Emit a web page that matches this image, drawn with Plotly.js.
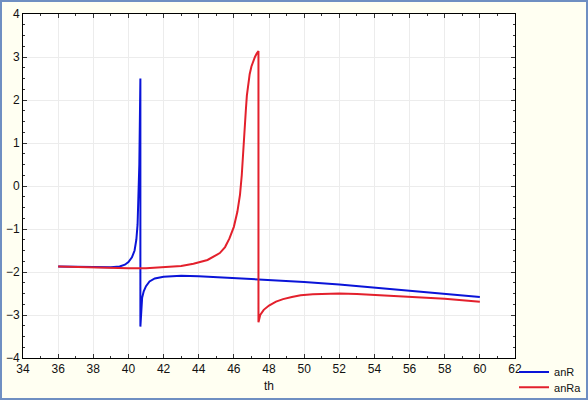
<!DOCTYPE html>
<html>
<head>
<meta charset="utf-8">
<script src="https://cdn.plot.ly/plotly-3.0.1.min.js"></script>
<style>
  body { margin: 0; background: #fffff2; }
  #wrap { position: relative; width: 588px; height: 400px; }
  #frame { position: absolute; left: 0; top: 0; width: 584px; height: 396px;
           border: 2px solid #6f8fc2; pointer-events: none; }
</style>
</head>
<body>
<div id="wrap">
  <div id="plot" style="width:588px;height:400px;"></div>
  <div id="frame"></div>
</div>
<script>
// anR (blue)
var thR = [36, 37, 38, 38.5, 39, 39.5, 39.8, 40.0, 40.2, 40.35, 40.45, 40.52, 40.58, 40.62, 40.65, 40.68,
           40.68, 40.72, 40.78, 40.87, 41.0, 41.2, 41.5, 42, 43, 44, 46, 48, 50, 52, 54, 56, 58, 60];
var anR = [-1.87, -1.88, -1.89, -1.89, -1.89, -1.87, -1.83, -1.77, -1.66, -1.5, -1.25, -0.9, -0.3, 0.5, 1.5, 2.5,
           -3.27, -2.9, -2.6, -2.45, -2.33, -2.22, -2.15, -2.11, -2.09, -2.1, -2.14, -2.18, -2.23, -2.29, -2.36, -2.43, -2.5, -2.58];

// anRa (red)
var thRa = [36, 37, 38, 39, 40, 41, 42, 43, 43.7, 44.5, 45.2, 45.5, 45.75, 46.0, 46.2, 46.35, 46.45, 46.55, 46.62,
            46.68, 46.74, 46.82, 46.9, 47.0, 47.1, 47.2, 47.3, 47.4,
            47.4, 47.5, 47.7, 48.0, 48.4, 48.8, 49.3, 49.8, 50.5, 51.2, 52, 53, 54, 56, 58, 60];
var anRa = [-1.87, -1.88, -1.9, -1.91, -1.91, -1.91, -1.89, -1.86, -1.81, -1.72, -1.56, -1.42, -1.22, -0.95, -0.6, -0.2, 0.25, 0.8, 1.3,
            1.75, 2.1, 2.4, 2.6, 2.78, 2.9, 3.0, 3.08, 3.14,
            -3.17, -3.0, -2.88, -2.78, -2.69, -2.63, -2.58, -2.54, -2.52, -2.51, -2.5, -2.51, -2.53, -2.57, -2.62, -2.69];

var Trace1 = {
  x: thR, y: anR, name: "anR", mode: "lines", legend: "legend",
  line: { color: "#0a14d8", width: 2 }
};
var Trace2 = {
  x: thRa, y: anRa, name: "anRa", mode: "lines", legend: "legend2",
  line: { color: "#e3202c", width: 2 }
};

var axisStyle = {
  showline: true, linecolor: "#000", linewidth: 1, mirror: "allticks",
  ticks: "inside", ticklen: 4, tickcolor: "#333",
  showgrid: true, gridcolor: "#ececec", zeroline: false,
  tickfont: { family: "Liberation Sans, Arial", size: 12, color: "#111" }
};

var legendStyle = {
  x: 0.998, xanchor: "left", yanchor: "middle",
  bgcolor: "rgba(0,0,0,0)", font: { size: 11 }
};

var layout = {
  width: 588, height: 400,
  margin: { l: 23, r: 73, t: 14, b: 42, autoexpand: false },
  paper_bgcolor: "#fffff2",
  plot_bgcolor: "#ffffff",
  font: { family: "Liberation Sans, Arial", size: 12, color: "#111" },
  showlegend: true,
  legend: Object.assign({}, legendStyle, { y: -0.041 }),
  legend2: Object.assign({}, legendStyle, { y: -0.085 }),
  xaxis: Object.assign({}, axisStyle, {
    range: [34, 62], dtick: 2, tick0: 34,
    minor: { dtick: 1, ticks: "inside", ticklen: 2, tickcolor: "#333", showgrid: false },
    title: { text: "th", standoff: 6, font: { size: 12 } }
  }),
  yaxis: Object.assign({}, axisStyle, {
    range: [-4, 4], dtick: 1,
    minor: { dtick: 0.25, ticks: "inside", ticklen: 2, tickcolor: "#333", showgrid: false }
  })
};

Plotly.newPlot("plot", [Trace1, Trace2], layout, { displayModeBar: false });
</script>
</body>
</html>
